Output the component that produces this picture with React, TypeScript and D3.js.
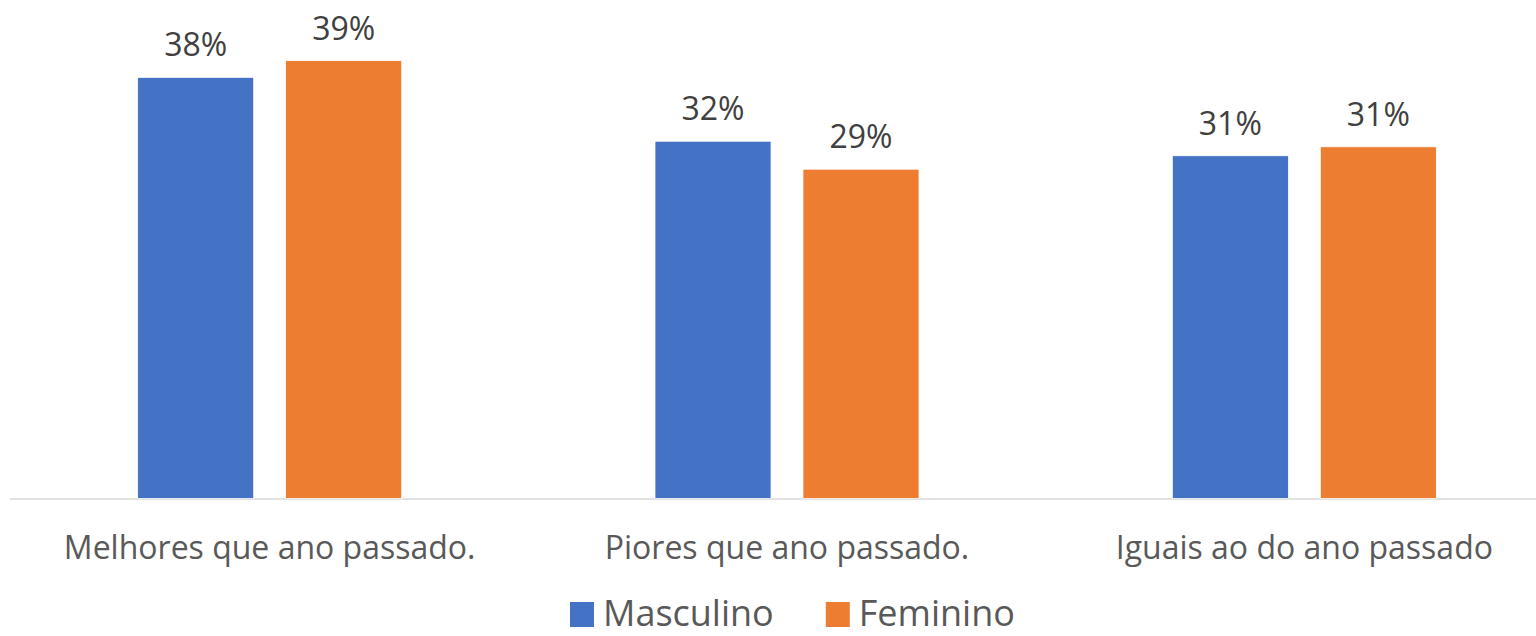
import { useRef, useEffect } from "react";
import * as d3 from "d3";

const categories = ["Melhores que ano passado.", "Piores que ano passado.", "Iguais ao do ano passado"];
const seriesNames = ["Masculino", "Feminino"];
const masculino = [0.376, 0.319, 0.306];
const feminino = [0.391, 0.294, 0.314];
const colors = ["#4472C4", "#ED7D31"];

const W = 1536;
const H = 636;
const FONT = "'Open Sans', sans-serif";

export default function App() {
  const ref = useRef<SVGSVGElement | null>(null);

  useEffect(() => {
    if (!ref.current) return;
    const svg = d3.select(ref.current);
    svg.selectAll("*").remove();

    const values = [masculino, feminino];
    const baseline = 498.5;

    const x = d3.scaleBand<string>().domain(categories).range([11, 1563]).paddingInner(0).paddingOuter(0);
    const xs = d3
      .scaleBand<string>()
      .domain(seriesNames)
      .range([0, x.bandwidth()])
      .paddingInner(0.216)
      .paddingOuter(0.856);
    const y = d3.scaleLinear().domain([0, 0.45]).range([baseline, baseline - 0.45 * 1120]);

    // axis line
    svg
      .append("line")
      .attr("x1", 10)
      .attr("x2", W)
      .attr("y1", baseline + 0.5)
      .attr("y2", baseline + 0.5)
      .attr("stroke", "#d9d9d9")
      .attr("stroke-width", 1.5);

    seriesNames.forEach((s, si) => {
      const g = svg.append("g");
      g.selectAll("rect")
        .data(values[si])
        .join("rect")
        .attr("x", (_, i) => (x(categories[i]) ?? 0) + (xs(s) ?? 0))
        .attr("y", (d) => y(d))
        .attr("width", xs.bandwidth())
        .attr("height", (d) => baseline - y(d))
        .attr("fill", colors[si])
        .attr("stroke", "white")
        .attr("stroke-width", 0.75);

      g.selectAll("text")
        .data(values[si])
        .join("text")
        .attr("x", (_, i) => (x(categories[i]) ?? 0) + (xs(s) ?? 0) + xs.bandwidth() / 2)
        .attr("y", (d) => y(d) - 21)
        .attr("text-anchor", "middle")
        .style("font-family", FONT)
        .style("font-size", "32px")
        .style("fill", "#404040")
        .text((d) => `${Math.round(d * 100)}%`);
    });

    // category labels
    svg
      .append("g")
      .selectAll("text")
      .data(categories)
      .join("text")
      .attr("x", (d) => (x(d) ?? 0) + x.bandwidth() / 2)
      .attr("y", 559)
      .attr("text-anchor", "middle")
      .style("font-family", FONT)
      .style("font-size", "32px")
      .style("fill", "#595959")
      .text((d) => d);

    // legend
    const legend = svg.append("g");
    let lx = 570;
    seriesNames.forEach((s, si) => {
      legend
        .append("rect")
        .attr("x", lx)
        .attr("y", 602)
        .attr("width", 24)
        .attr("height", 25)
        .attr("fill", colors[si]);
      const t = legend
        .append("text")
        .attr("x", lx + 33)
        .attr("y", 626)
        .style("font-family", FONT)
        .style("font-size", "36px")
        .style("fill", "#595959")
        .text(s);
      const tw = (t.node() as SVGTextElement).getComputedTextLength();
      lx = lx + 33 + tw + 52;
    });
  }, []);

  return (
    <svg
      ref={ref}
      width={W}
      height={H}
      style={{ position: "absolute", left: 0, top: 0, background: "white" }}
    />
  );
}
